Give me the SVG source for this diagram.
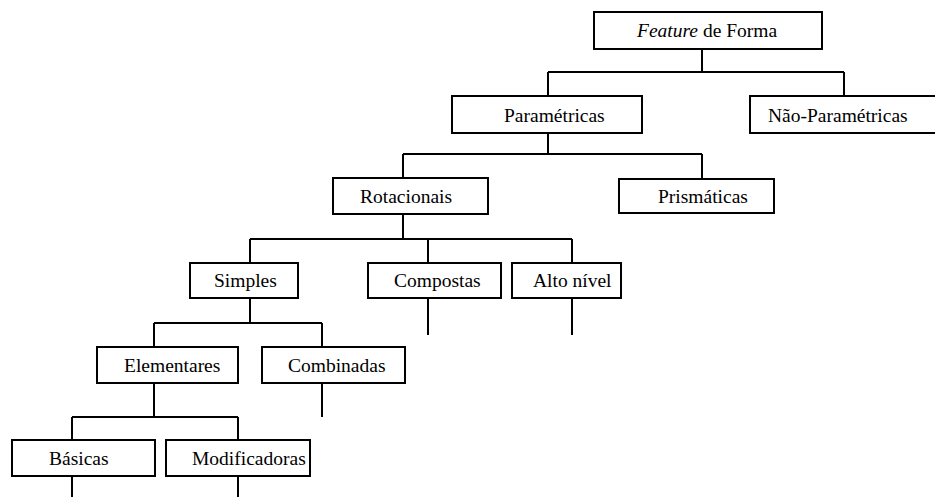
<svg xmlns="http://www.w3.org/2000/svg" width="935" height="497" viewBox="0 0 935 497">
  <style>
    .box { fill: #ffffff; stroke: #000000; stroke-width: 2; }
    .lbl { font-family: "Liberation Serif", "Times New Roman", serif; font-size: 19.5px; fill: #000000; }
    .conn { fill: none; stroke: #000000; stroke-width: 2; }
  </style>
  <rect width="935" height="497" fill="#ffffff"/>

  <!-- tree connectors -->
  <g id="connectors">
    <path class="conn" d="M702 49 V72 M548 72 H844 M548 72 V96 M844 72 V96"/>
    <path class="conn" d="M548 133 V154 M403 154 H702 M403 154 V178 M702 154 V179"/>
    <path class="conn" d="M403 214 V239 M250 239 H572 M250 239 V263 M428 239 V263 M572 239 V263"/>
    <path class="conn" d="M428 298 V335 M572 298 V335"/>
    <path class="conn" d="M250 298 V323 M154 323 H322 M154 323 V347 M322 323 V347"/>
    <path class="conn" d="M322 383 V417"/>
    <path class="conn" d="M154 383 V417 M72 417 H238 M72 417 V440 M238 417 V440"/>
    <path class="conn" d="M72 476 V497 M238 476 V497"/>
  </g>

  <g id="feature-forma">
    <rect class="box" x="594" y="12" width="228" height="37"/>
    <text class="lbl" x="637" y="37"><tspan font-style="italic">Feature</tspan> de Forma</text>
  </g>
  <g id="parametricas">
    <rect class="box" x="452" y="96" width="190" height="37"/>
    <text class="lbl" x="504" y="122">Paramétricas</text>
  </g>
  <g id="nao-parametricas">
    <rect class="box" x="750" y="96" width="200" height="37"/>
    <text class="lbl" x="768" y="122">Não-Paramétricas</text>
  </g>
  <g id="rotacionais">
    <rect class="box" x="333" y="178" width="155" height="36"/>
    <text class="lbl" x="360" y="203">Rotacionais</text>
  </g>
  <g id="prismaticas">
    <rect class="box" x="619" y="179" width="155" height="34"/>
    <text class="lbl" x="658" y="203">Prismáticas</text>
  </g>
  <g id="simples">
    <rect class="box" x="190" y="263" width="108" height="35"/>
    <text class="lbl" x="214" y="287">Simples</text>
  </g>
  <g id="compostas">
    <rect class="box" x="368" y="263" width="133" height="35"/>
    <text class="lbl" x="394" y="287">Compostas</text>
  </g>
  <g id="alto-nivel">
    <rect class="box" x="512" y="263" width="109" height="35"/>
    <text class="lbl" x="533" y="287">Alto nível</text>
  </g>
  <g id="elementares">
    <rect class="box" x="97" y="347" width="141" height="36"/>
    <text class="lbl" x="124" y="372">Elementares</text>
  </g>
  <g id="combinadas">
    <rect class="box" x="262" y="347" width="143" height="36"/>
    <text class="lbl" x="288" y="372">Combinadas</text>
  </g>
  <g id="basicas">
    <rect class="box" x="12" y="440" width="143" height="36"/>
    <text class="lbl" x="49" y="465">Básicas</text>
  </g>
  <g id="modificadoras">
    <rect class="box" x="166" y="440" width="144" height="36"/>
    <text class="lbl" x="192" y="465">Modificadoras</text>
  </g>
</svg>
